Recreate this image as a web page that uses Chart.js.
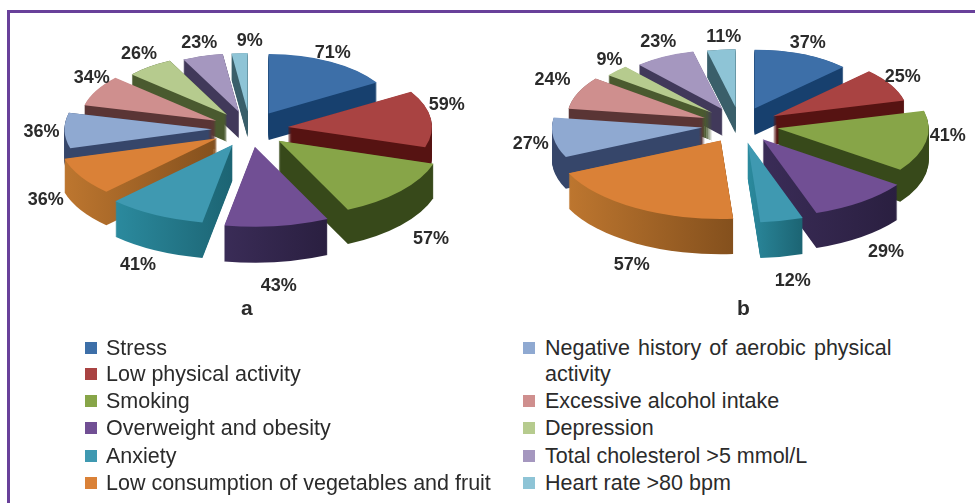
<!DOCTYPE html>
<html>
<head>
<meta charset="utf-8">
<script src="https://cdn.jsdelivr.net/npm/chart.js@4"></script>
<style>
    html, body { margin: 0; padding: 0; background: #fff; width: 975px; height: 503px; overflow: hidden; }
    canvas { position: absolute; top: 0; }
    #frameTop { position: absolute; left: 7px; top: 10px; width: 968px; height: 3px; background: #68409a; }
    #frameLeft { position: absolute; left: 7px; top: 10px; width: 3px; height: 493px; background: #68409a; }
    .sub { position: absolute; top: 296px; font: bold 21px "Liberation Sans"; color: #2b2b2b; }
    .item { position: absolute; font: 21.5px "Liberation Sans"; color: #2b2b2b; white-space: nowrap; line-height: 24px; }
    .box { position: absolute; width: 12px; height: 12px; }
</style>
</head>
<body>
<canvas id="pieA" width="490" height="320" style="left:0"></canvas>
<canvas id="pieB" width="485" height="320" style="left:490px"></canvas>
<div id="frameTop"></div>
<div id="frameLeft"></div>
<div class="sub" style="left:241px">a</div>
<div class="sub" style="left:737px">b</div>
<div id="legend"></div>
<script>
// data
const categories = ["Stress", "Low physical activity", "Smoking", "Overweight and obesity", "Anxiety",
    "Low consumption of vegetables and fruit", "Negative history of aerobic physical activity",
    "Excessive alcohol intake", "Depression", "Total cholesterol >5 mmol/L", "Heart rate >80 bpm"]
const valuesA = [71, 59, 57, 43, 41, 36, 36, 34, 26, 23, 9]
const valuesB = [37, 25, 41, 29, 12, 57, 27, 24, 9, 23, 11]

// colours of the top of each slice and of its side (left end, right end)
const topColors = ["#3d6fa8", "#a94342", "#87a548", "#714f94", "#3f99b1", "#da8137", "#8fa9d1", "#cf8f8e", "#b6cb8e", "#a597bf", "#8ec4d6"]
const sideLeft = ["#17406e", "#561312", "#37491a", "#3a2c57", "#2b8a9e", "#bd762f", "#36466a", "#5a3535", "#4a5a2f", "#41395a", "#3a5f6a"]
const sideRight = ["#17406e", "#561312", "#37491a", "#2a1f40", "#1c6473", "#84501d", "#36466a", "#5a3535", "#4a5a2f", "#41395a", "#3a5f6a"]

// how the flat pie is tilted
const tilt = 0.47
const depth = 31
const perspective = 0.16

// small shifts of the percent labels from where the geometry puts them
const nudgeA = [[-12, 5], [-13, -10], [8, 18], [-2, 13], [-4, 8], [-10, 0], [6, 1], [21, -4], [7, 0], [5, 2], [12, 3]]
const nudgeB = [[-6, 3], [-13, 1], [-7, -14], [7, 13], [5, 14], [11, 17], [6, 0], [1, -6], [14, 0], [7, -1], [6, 3]]

// legend rows: column x, row y
const legendRows = [
    [0, 348], [0, 374], [0, 401], [0, 428], [0, 456], [0, 483],
    [1, 348], [1, 401], [1, 428], [1, 456], [1, 483]
]

function slicePath(ctx, ax, ay, r, a0, a1) {
    ctx.beginPath()
    ctx.moveTo(ax, ay)
    ctx.arc(ax, ay, r, a0, a1)
    ctx.closePath()
}

// draws the arcs of the chart as a tilted 3d pie
const tiltPlugin = {
    id: "tilt3d",
    beforeDatasetDraw(chart, args, opts) {
        const ctx = chart.ctx
        const arcs = args.meta.data.map((el, i) => {
            const mid = (el.startAngle + el.endAngle) / 2
            const off = el.options.offset / 4
            return {
                el, i, mid,
                ax: el.x + Math.cos(mid) * off,
                ay: el.y + Math.sin(mid) * off,
                r: el.outerRadius,
                s: 1 + perspective * Math.sin(mid)
            }
        })
        arcs.sort((p, q) => Math.sin(p.mid) - Math.sin(q.mid))

        ctx.save()
        ctx.translate(opts.cx, opts.cy)
        ctx.scale(1, tilt)
        ctx.translate(-chart.width / 2, -chart.height / 2)
        arcs.forEach(a => {
            const d = depth * a.s
            const rad = a.r * a.s
            const xs = [a.ax, a.ax + Math.cos(a.el.startAngle) * rad, a.ax + Math.cos(a.el.endAngle) * rad]
            const grad = ctx.createLinearGradient(Math.min(...xs), 0, Math.max(...xs), 0)
            grad.addColorStop(0, sideLeft[a.i])
            grad.addColorStop(1, sideRight[a.i])
            ctx.fillStyle = grad
            for (let k = d; k > 0; k -= 1) {
                slicePath(ctx, a.ax, a.ay + k / tilt, rad, a.el.startAngle, a.el.endAngle)
                ctx.fill()
            }
            ctx.fillStyle = a.el.options.backgroundColor
            slicePath(ctx, a.ax, a.ay, rad, a.el.startAngle, a.el.endAngle)
            ctx.fill()
        })
        ctx.restore()

        // percent labels
        ctx.font = "bold 18px 'Liberation Sans'"
        ctx.fillStyle = "#2b2b2b"
        ctx.textAlign = "center"
        ctx.textBaseline = "middle"
        arcs.forEach(a => {
            const sx = opts.cx + a.ax - chart.width / 2
            const sy = opts.cy + (a.ay - chart.height / 2) * tilt
            const rr = 150 * a.s + 26
            const x = sx + Math.cos(a.mid) * rr
            const y = sy + Math.sin(a.mid) * rr * tilt + Math.max(0, Math.sin(a.mid)) * 29 * a.s - (Math.sin(a.mid) < 0 ? 2 : 0)
            ctx.fillText(chart.data.datasets[0].data[a.i] + "%", x + opts.nudge[a.i][0], y + opts.nudge[a.i][1])
        })
        return false
    }
}

function makePie(id, values, cx, cy, nudge) {
    return new Chart(document.getElementById(id).getContext("2d"), {
        type: "pie",
        plugins: [tiltPlugin],
        data: {
            labels: categories,
            datasets: [{
                data: values,
                backgroundColor: topColors,
                borderWidth: 0,
                offset: 152,
                radius: 147
            }]
        },
        options: {
            responsive: false,
            animation: false,
            events: [],
            plugins: {
                legend: { display: false },
                tooltip: { enabled: false },
                tilt3d: { cx: cx, cy: cy, nudge: nudge }
            }
        }
    })
}

makePie("pieA", valuesA, 250, 129, nudgeA)
makePie("pieB", valuesB, 250, 125, nudgeB)

// legend
const legend = document.getElementById("legend")
categories.forEach((name, i) => {
    const col = legendRows[i][0]
    const y = legendRows[i][1]
    const box = document.createElement("div")
    box.className = "box"
    box.style.left = (col ? 523 : 85) + "px"
    box.style.top = (y - 6) + "px"
    box.style.background = topColors[i]
    legend.appendChild(box)
    const item = document.createElement("div")
    item.className = "item"
    item.style.left = (col ? 545 : 106) + "px"
    item.style.top = (y - 12) + "px"
    item.innerHTML = name === categories[6]
        ? "<span style='word-spacing:2.1px'>Negative history of aerobic physical</span><br><span style='line-height:29px'>activity</span>"
        : name.replace(">", "&gt;")
    legend.appendChild(item)
})
</script>
</body>
</html>
